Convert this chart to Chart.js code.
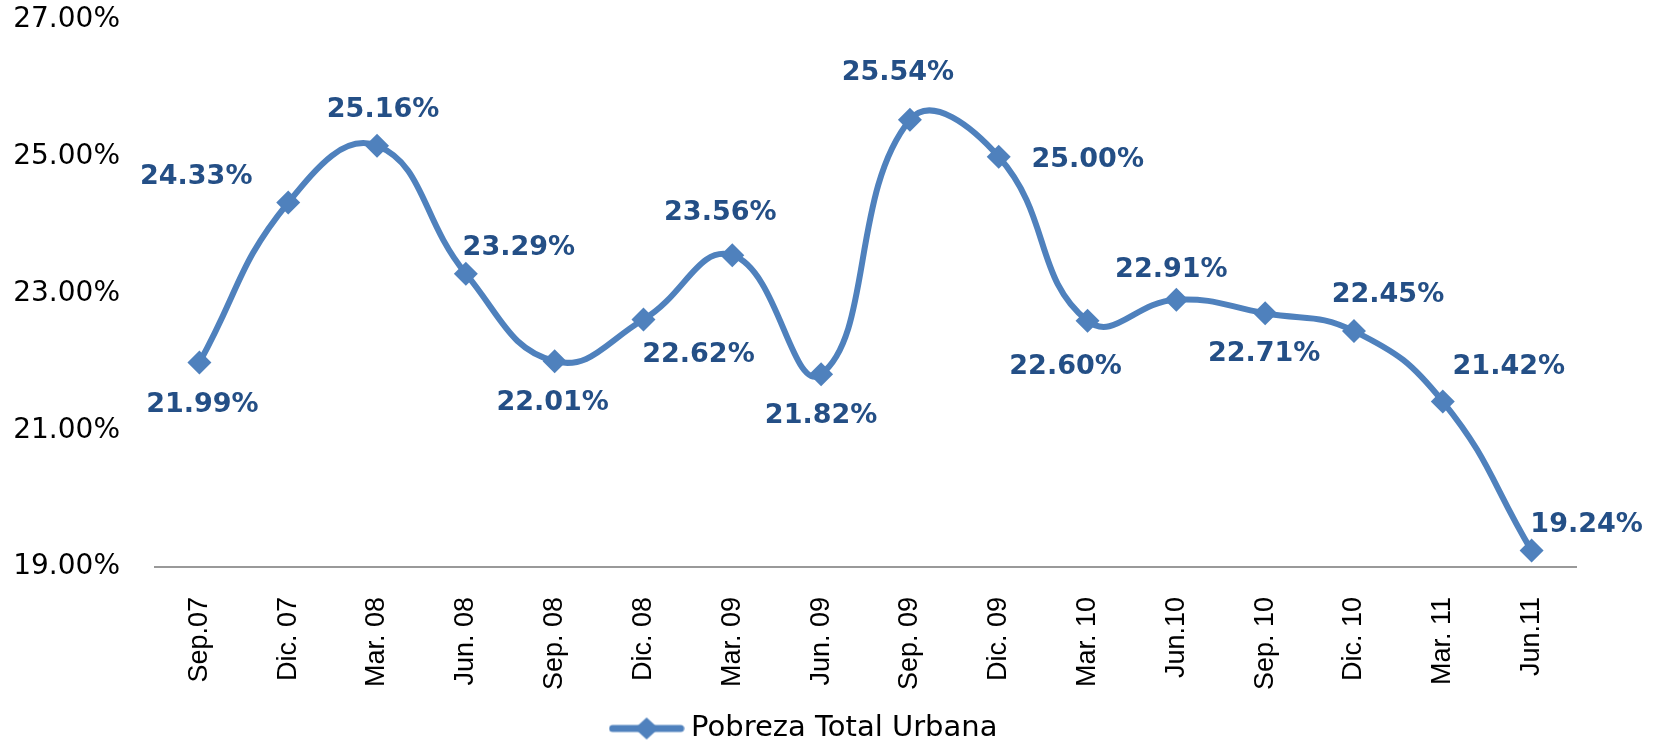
<html lang="es">
<head>
    <meta charset="UTF-8">
    <title>Pobreza Total Urbana</title>
    <style>
        html, body { margin: 0; padding: 0; background: #fff; }
        .chartBox { width: 1661px; height: 742px; }
    </style>
</head>
<body>
    <div class="chartBox">
        <canvas id="myChart"></canvas>
    </div>

    <script src="https://cdn.jsdelivr.net/npm/chart.js@4"></script>
    <script>
        // data
        const periods = ['Sep.07', 'Dic. 07', 'Mar. 08', 'Jun. 08', 'Sep. 08', 'Dic. 08', 'Mar. 09', 'Jun. 09',
                         'Sep. 09', 'Dic. 09', 'Mar. 10', 'Jun.10', 'Sep. 10', 'Dic. 10', 'Mar. 11', 'Jun.11'];
        const pobrezaUrbana = [21.99, 24.33, 25.16, 23.29, 22.01, 22.62, 23.56, 21.82,
                               25.54, 25.00, 22.60, 22.91, 22.71, 22.45, 21.42, 19.24];
        const seriesName = 'Pobreza Total Urbana';
        const yMin = 19, yMax = 27, yStep = 2;

        // where each value label sits relative to its point (dx, dy in px)
        const labelOffsets = [[3, 42], [-92, -26], [6, -36], [53, -26], [-2, 42], [55, 36], [-12, -42], [0, 42],
                              [-12, -47], [89, 3], [-22, 46], [-5, -30], [-1, 41], [34, -36], [66, -35], [55, -26]];

        const lineColor = '#4F81BD';
        const labelColor = '#244F86';
        const plotBottom = 567;   // y of the category axis line
        const padBottom = -11;

        // legend symbol: line with a diamond
        function legendSymbol() {
            const c = document.createElement('canvas');
            c.width = 76; c.height = 24;
            const g = c.getContext('2d');
            g.strokeStyle = lineColor;
            g.lineWidth = 7;
            g.lineCap = 'round';
            g.beginPath(); g.moveTo(4, 12); g.lineTo(72, 12); g.stroke();
            g.fillStyle = lineColor;
            g.beginPath(); g.moveTo(38, 1); g.lineTo(50, 12); g.lineTo(38, 23); g.lineTo(26, 12); g.closePath(); g.fill();
            return c;
        }

        const valueLabels = {
            id: 'valueLabels',
            afterDatasetsDraw(chart) {
                const ctx = chart.ctx;
                const meta = chart.getDatasetMeta(0);
                ctx.save();
                ctx.font = 'bold 27px "DejaVu Sans"';
                ctx.fillStyle = labelColor;
                ctx.textAlign = 'center';
                ctx.textBaseline = 'middle';
                meta.data.forEach((pt, i) => {
                    const off = labelOffsets[i];
                    ctx.fillText(pobrezaUrbana[i].toFixed(2) + '%', pt.x + off[0], pt.y + off[1]);
                });
                ctx.restore();
            }
        };

        // nudge the legend a bit to the right, like the original
        const legendShift = {
            id: 'legendShift',
            afterLayout(chart) {
                if (chart.legend) chart.legend.left += 38;
            }
        };

        const ctx = document.getElementById('myChart').getContext('2d');
        const chart = new Chart(ctx, {
            type: 'line',
            data: {
                labels: periods,
                datasets: [{
                    label: seriesName,
                    data: pobrezaUrbana,
                    borderColor: lineColor,
                    backgroundColor: lineColor,
                    borderWidth: 6,
                    tension: 0.45,
                    pointStyle: 'rectRot',
                    pointRadius: 12,
                    pointHoverRadius: 12,
                    pointBackgroundColor: lineColor,
                    pointBorderWidth: 0
                }]
            },
            options: {
                responsive: true,
                maintainAspectRatio: false,
                animation: false,
                layout: { padding: { top: 0, right: 85, left: 0, bottom: padBottom } },
                plugins: {
                    tooltip: { enabled: false },
                    legend: {
                        position: 'bottom',
                        labels: {
                            usePointStyle: true,
                            pointStyle: legendSymbol(),
                            pointStyleWidth: 60,
                            color: '#000',
                            padding: 0,
                            font: { family: '"DejaVu Sans"', size: 29 }
                        }
                    }
                },
                scales: {
                    x: {
                        offset: true,
                        grid: { display: false, drawTicks: false },
                        border: { display: true, color: '#999', width: 2 },
                        ticks: {
                            minRotation: 90,
                            maxRotation: 90,
                            padding: 30,
                            color: '#000',
                            font: { family: '"Liberation Sans Narrow", "Liberation Sans"', size: 27 }
                        },
                        afterFit: (s) => { s.height = s.chart.height - padBottom - plotBottom - s.chart.legend.height; }
                    },
                    y: {
                        min: yMin,
                        max: yMax,
                        grid: { display: false, drawTicks: false },
                        border: { display: false },
                        ticks: {
                            stepSize: yStep,
                            padding: 35,
                            color: '#000',
                            font: { family: '"DejaVu Sans"', size: 28 },
                            callback: (v) => v.toFixed(2) + '%'
                        },
                        afterFit: (s) => { s.width = 155; s.paddingTop = 20; s.paddingBottom = 0; }
                    }
                }
            },
            plugins: [valueLabels, legendShift]
        });
    </script>
</body>
</html>
